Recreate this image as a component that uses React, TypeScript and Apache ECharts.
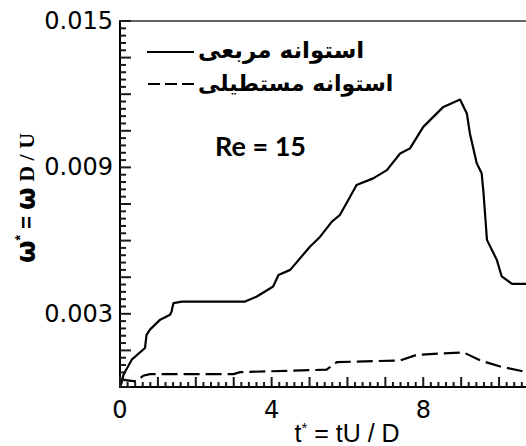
import React, { useEffect, useRef } from "react";
import * as echarts from "echarts";

// time t* = tU/D
const squareT = [0, 0.04, 0.09, 0.31, 0.66, 0.70, 0.79, 1.06, 1.32, 1.36, 1.41, 1.63, 3.30, 3.61, 4.04, 4.18, 4.49, 5.01, 5.28, 5.59, 5.80, 6.07, 6.24, 6.68, 7.04, 7.39, 7.65, 8.00, 8.53, 8.97, 9.15, 9.23, 9.41, 9.54, 9.59, 9.68, 9.94, 10.07, 10.34, 10.71];
// omega* (x 1e-3)
const squareW = [0.02, 0.16, 0.50, 1.12, 1.60, 2.14, 2.35, 2.76, 2.96, 3.09, 3.44, 3.50, 3.50, 3.71, 4.12, 4.59, 4.80, 5.75, 6.16, 6.78, 7.05, 7.80, 8.28, 8.55, 8.89, 9.57, 9.78, 10.66, 11.48, 11.78, 11.21, 10.39, 9.17, 8.76, 7.94, 6.03, 5.21, 4.53, 4.23, 4.23];

const rectT = [0, 0.02, 0.44, 0.61, 0.79, 2.99, 3.17, 5.45, 5.72, 7.39, 7.83, 9.06, 9.50, 10.03, 10.63, 10.71];
const rectW = [0.30, 0.30, 0.23, 0.46, 0.53, 0.53, 0.61, 0.71, 1.02, 1.09, 1.32, 1.42, 1.09, 0.84, 0.64, 0.61];

const xTickLabels = ["0", "4", "8"];
const yTickLabels = ["0.003", "0.009", "0.015"];
const legendNames = ["استوانه مربعی", "استوانه مستطیلی"];
const annotation = "Re = 15";

const X_MAX = 10.71;
const X_MAJOR = 1;
const Y_MAX = 0.015;
const Y_MAJOR = 0.0015;
const MINOR_SPLIT = 5;
const TICK_COLOR = "#1a1a1a";

export default function App() {
  const ref = useRef<HTMLDivElement>(null);
  useEffect(() => {
    if (!ref.current) return;
    const chart = echarts.init(ref.current, null, { renderer: "svg" });
    const sq = squareT.map((t, i) => [t, squareW[i] / 1000]);
    const rc = rectT.map((t, i) => [t, rectW[i] / 1000]);

    // tick marks (major + minor) drawn inward from the axes
    const xTicks: number[][] = [];
    for (let k = 0; k * (X_MAJOR / MINOR_SPLIT) <= X_MAX + 1e-9; k++) {
      xTicks.push([k * (X_MAJOR / MINOR_SPLIT), 0, k % MINOR_SPLIT === 0 ? 1 : 0]);
    }
    const yTicks: number[][] = [];
    for (let k = 0; k * (Y_MAJOR / MINOR_SPLIT) <= Y_MAX + 1e-12; k++) {
      yTicks.push([0, k * (Y_MAJOR / MINOR_SPLIT), k % MINOR_SPLIT === 0 ? 1 : 0]);
    }

    const tickFont = { fontFamily: "DejaVu Sans", fontSize: 24, color: "#000" };
    chart.setOption({
      animation: false,
      grid: { left: 120, top: 21, right: 0, bottom: 59, show: false },
      xAxis: [
        {
          type: "value",
          min: 0,
          max: X_MAX,
          interval: X_MAJOR,
          axisLine: { show: true, lineStyle: { color: "#000", width: 2 } },
          axisTick: { show: false },
          splitLine: { show: false },
          axisLabel: {
            ...tickFont,
            margin: 11,
            showMaxLabel: false,
            formatter: (v: number) => {
              const s = String(Math.round(v));
              return Math.abs(v - Math.round(v)) < 1e-6 && xTickLabels.includes(s) ? s : "";
            },
          },
        },
        {
          type: "value",
          position: "top",
          min: 0,
          max: X_MAX,
          axisLine: { show: true, onZero: false, lineStyle: { color: "#333", width: 1.5 } },
          axisTick: { show: false },
          axisLabel: { show: false },
          splitLine: { show: false },
        },
      ],
      yAxis: {
        type: "value",
        min: 0,
        max: Y_MAX,
        interval: Y_MAJOR,
        axisLine: { show: true, lineStyle: { color: "#000", width: 2 } },
        axisTick: { show: false },
        splitLine: { show: false },
        axisLabel: {
          ...tickFont,
          margin: 7,
          formatter: (v: number) => {
            const k = Math.round(v / Y_MAJOR);
            if (k === 2) return yTickLabels[0];
            if (k === 6) return yTickLabels[1];
            if (k === 10) return yTickLabels[2];
            return "";
          },
        },
      },
      series: [
        {
          type: "custom",
          clip: false,
          silent: true,
          data: xTicks,
          z: 10,
          renderItem: (params: any, api: any) => {
            const p = api.coord([api.value(0), 0]);
            const len = api.value(2) ? 10 : 5;
            return {
              type: "line",
              shape: { x1: p[0], y1: p[1], x2: p[0], y2: p[1] - len },
              style: { stroke: TICK_COLOR, lineWidth: 2 },
            };
          },
        },
        {
          type: "custom",
          clip: false,
          silent: true,
          data: yTicks,
          z: 10,
          renderItem: (params: any, api: any) => {
            const p = api.coord([0, api.value(1)]);
            const len = api.value(2) ? 11 : 6;
            return {
              type: "line",
              shape: { x1: p[0], y1: p[1], x2: p[0] + len, y2: p[1] },
              style: { stroke: TICK_COLOR, lineWidth: 2 },
            };
          },
        },
        {
          name: legendNames[0],
          type: "line",
          data: sq,
          showSymbol: false,
          lineStyle: { color: "#000", width: 2.2 },
        },
        {
          name: legendNames[1],
          type: "line",
          data: rc,
          showSymbol: false,
          lineStyle: { color: "#000", width: 2.2, type: [16, 6] },
        },
      ],
      graphic: [
        { type: "line", shape: { x1: 147, y1: 52, x2: 194, y2: 52 }, style: { stroke: "#000", lineWidth: 2.2 } },
        { type: "line", shape: { x1: 148, y1: 84, x2: 194, y2: 84 }, style: { stroke: "#000", lineWidth: 2.2, lineDash: [12, 5] } },
        {
          type: "text",
          x: 198,
          y: 50,
          style: { text: legendNames[0], font: "bold 23px 'DejaVu Sans'", fill: "#000", align: "left", verticalAlign: "middle" },
        },
        {
          type: "text",
          x: 198,
          y: 83,
          style: { text: legendNames[1], font: "bold 22px 'DejaVu Sans'", fill: "#000", align: "left", verticalAlign: "middle" },
        },
        {
          type: "text",
          x: 215,
          y: 145,
          style: { text: annotation, font: "bold 27px Lato", fill: "#000", align: "left", verticalAlign: "middle" },
        },
        {
          type: "text",
          x: 26,
          y: 198,
          rotation: Math.PI / 2,
          style: {
            text: "{w|ω}{s|*}{e| = }{w|ω}{d| D / U}",
            align: "center",
            verticalAlign: "middle",
            fill: "#000",
            rich: {
              w: { font: "bold 26px 'DejaVu Sans'", fill: "#000" },
              s: { font: "bold 14px 'Liberation Sans'", fill: "#000", padding: [0, 0, 12, 0] },
              e: { font: "bold 22px 'Liberation Sans'", fill: "#000" },
              d: { font: "bold 22px 'Liberation Serif'", fill: "#000" },
            },
          },
        },
        {
          type: "text",
          x: 347,
          y: 433,
          style: {
            text: "{t|t}{s|*}{t| = tU / D}",
            align: "center",
            verticalAlign: "middle",
            fill: "#000",
            rich: {
              t: { font: "25px 'Liberation Sans'", fill: "#000" },
              s: { font: "15px 'Liberation Sans'", fill: "#000", padding: [0, 0, 12, 0] },
            },
          },
        },
      ],
    });
    return () => chart.dispose();
  }, []);
  return <div ref={ref} style={{ position: "absolute", left: 0, top: 0, width: 526, height: 446 }} />;
}
